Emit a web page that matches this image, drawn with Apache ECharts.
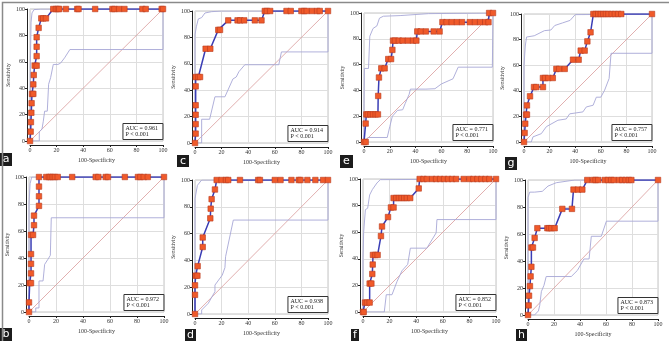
<!DOCTYPE html>
<html>
<head>
<meta charset="utf-8">
<style>
  html, body { margin: 0; padding: 0; background: #fff; }
  #chart { width: 669px; height: 341px; }
</style>
<script src="https://cdn.jsdelivr.net/npm/echarts@6/dist/echarts.min.js"></script>
</head>
<body>
<div id="chart"></div>
<script>
// ROC points [100-specificity, sensitivity] per panel
const rocA = [[0,0],[0.5,7.1],[0.7,14.3],[1,21.4],[1.2,28.6],[1.5,35.7],[2.5,35.7],[2.5,42.9],[2.8,50],[3.5,57.1],[5,57.1],[5,64.3],[5,71.4],[5,78.6],[6.5,85.7],[8.5,92.9],[10,92.9],[12,92.9],[17.5,100],[19.5,100],[21,100],[22,100],[27,100],[35.5,100],[36.5,100],[49,100],[62,100],[63.5,100],[67,100],[71,100],[84.5,100],[87,100],[99,100],[100,100]];
const upperA = [[0,0],[0.3,60],[0.8,90],[1.5,97],[3,99.5],[8,100],[100,100]];
const lowerA = [[0,0],[7,0],[7,7],[9,9],[10,15],[11,22.6],[13,22.6],[14,43],[15.5,48],[17.5,58],[21,58],[23,59],[26,63],[30,69.3],[100,69.3],[100,100]];

const rocC = [[0,0],[0.5,7.1],[0.5,14.3],[0.5,21.4],[0.5,28.6],[0.5,42.9],[0.5,50],[2.5,50],[3.8,50],[8,71.4],[11.5,71.4],[17.5,85.7],[18.8,85.7],[25,92.9],[32,92.9],[34,92.9],[37,92.9],[45,92.9],[50,92.9],[52.5,100],[54,100],[56.5,100],[68.8,100],[72,100],[80,100],[82,100],[84,100],[88,100],[91.8,100],[93.8,100],[100,100]];
const upperC = [[0,0],[0,82],[1,88],[2.5,94],[5,95],[7.5,98.5],[12.5,99.5],[20,100],[100,100]];
const lowerC = [[0,0],[5,0],[5,18],[11,18],[15,35],[22.5,35],[28.5,48.5],[31,50],[33,54],[37.5,59.3],[63,59.3],[65,69],[100,69],[100,100]];

const rocE = [[0,0],[1.3,0],[1.3,14.3],[1.8,21.4],[3,21.4],[5,21.4],[7,21.4],[9,21.4],[10.8,21.4],[11,35.7],[11.6,50],[13.4,57.1],[16,57.1],[18.8,64.3],[21,64.3],[22,71.4],[22.5,78.6],[24,78.6],[27,78.6],[30,78.6],[34,78.6],[38,78.6],[40.6,78.6],[41.3,85.7],[44,85.7],[48,85.7],[54,85.7],[58.6,85.7],[60.8,92.9],[64,92.9],[68,92.9],[72,92.9],[76,92.9],[82,92.9],[86,92.9],[90,92.9],[94,92.9],[96.5,92.9],[97,100],[100,100]];
const upperE = [[0,0],[0,30],[0.3,57],[3.5,57],[4.5,82],[7,88],[10,90],[12,96],[15,97.5],[28,98],[50,99.5],[100,100]];
const lowerE = [[0,0],[3,3.5],[18,3.5],[20,12],[22,20],[26,24.5],[30,25],[32,30],[35,37],[36,41],[48,41],[55,41.3],[60,45],[69,49],[73,58],[99.5,58],[100,100]];

const rocG = [[0,0],[0.5,7.1],[1,14.3],[1.6,21.4],[2.3,21.4],[2.3,28.6],[4.7,35.7],[7.8,42.9],[9.6,42.9],[14.8,42.9],[14.8,50],[16.5,50],[19,50],[22.5,50],[25.3,57.1],[27.5,57.1],[31.8,57.1],[38.3,64.3],[42.7,64.3],[44.3,71.4],[47.4,71.4],[49.5,78.6],[52,85.7],[54.2,100],[56,100],[58,100],[60,100],[62,100],[64,100],[66,100],[68.5,100],[71,100],[73.5,100],[76,100],[100,100]];
const upperG = [[0,0],[0,60],[1,75],[2,82],[8,83],[16,87],[21,87.5],[24,91],[30,93],[36,95],[40,99.5],[100,100]];
const lowerG = [[0,0],[5.7,0],[7,4],[13.5,6.5],[17.5,12],[26.5,17],[33,18],[35.7,22],[46,23.5],[48.7,27.4],[54,28.7],[56.5,35],[60,35],[63,40.5],[66.5,49.6],[68,69.3],[100,69.3],[100,100]];

const rocB = [[0,0],[0,7.1],[0.5,21.4],[1.5,21.4],[1.5,28.6],[1.5,35.7],[1.5,42.9],[1.5,57.1],[3,57.1],[3.7,64.3],[3.7,71.4],[7.4,78.6],[7.4,85.7],[7.4,92.9],[7.4,100],[12.8,100],[14.8,100],[16,100],[17.5,100],[19.2,100],[21.3,100],[32,100],[49.4,100],[51.4,100],[56.8,100],[58.5,100],[71,100],[80.7,100],[82.5,100],[85,100],[88,100],[100,100]];
const upperB = [[0,0],[0,80],[0.8,95],[2,100],[100,100]];
const lowerB = [[0,0],[5,0],[5,3],[7.4,3],[7.4,23],[10.4,23],[11.6,35.3],[14,39],[15.8,42],[16.5,69.8],[100,69.8],[100,100]];

const rocD = [[0,0],[0,14.3],[0,21.4],[0.5,28.6],[1.8,28.6],[2,35.7],[5.8,50],[5.8,57.1],[11.5,71.4],[11.8,78.6],[12.5,85.7],[15,92.9],[16.3,100],[20,100],[23.3,100],[25,100],[33.8,100],[47.5,100],[48.8,100],[60,100],[64.3,100],[72.5,100],[78,100],[79.3,100],[84.5,100],[90.5,100],[96.3,100],[100,100]];
const upperD = [[0,0],[0,86],[1.8,96],[5,100],[100,100]];
const lowerD = [[0,0],[5,0],[5,3],[10,8],[15,16.7],[15,21.6],[20.5,29],[22.5,34.6],[23,42.8],[28.8,70.1],[100,70.1],[100,100]];

const rocF = [[0,0],[0.5,0],[1.5,7.1],[3,7.1],[5,7.1],[5,21.4],[6.3,21.4],[7,28.6],[7.3,35.7],[7.5,42.9],[9.3,42.9],[11,42.9],[13.5,57.1],[14.3,64.3],[18.8,71.4],[21,78.6],[23,78.6],[23,85.7],[25,85.7],[27,85.7],[29,85.7],[31,85.7],[33,85.7],[35.5,85.7],[41.9,92.9],[42.6,100],[45.5,100],[48,100],[52,100],[55,100],[58,100],[61,100],[64,100],[67,100],[70,100],[75.7,100],[80,100],[83,100],[86,100],[89,100],[92,100],[95,100],[100,100]];
const upperF = [[0,0],[0,41],[0.5,60],[1.8,77],[3.5,78],[5,88],[7,92],[10.5,97],[13,99.5],[100,100]];
const lowerF = [[0,0],[16,0],[17.5,13],[21.8,13],[25.6,23],[29.3,31],[33.6,35.8],[35.6,48],[48,48],[55,59.5],[55.6,69.5],[100,69.5],[100,100]];

const rocH = [[0,0],[0.5,7.1],[0.8,14.3],[1.5,21.4],[2,28.6],[2.6,35.7],[2.6,50],[3.8,50],[5.1,57.1],[7.2,64.3],[14.9,64.3],[16.2,64.3],[18,64.3],[20.5,64.3],[26.4,78.6],[33.8,78.6],[35,92.9],[38.5,92.9],[41.8,92.9],[45.6,100],[50,100],[52,100],[54,100],[59,100],[61.5,100],[64,100],[66,100],[70,100],[72.5,100],[75,100],[77.5,100],[79.5,100],[100,100]];
const upperH = [[0,0],[0,87],[1.3,91],[5,91],[11,91.6],[15.4,95.5],[21.8,98],[36,100],[100,100]];
const lowerH = [[0,0],[5,0],[8,3],[9,7],[10.3,17.4],[12.3,22],[14,28.5],[33.3,28.5],[38,33],[43,41.5],[47,41.5],[48.7,58.3],[56.4,58.3],[60.3,69.5],[100,69.5],[100,100]];

const diagonal = [[0,0],[100,100]];
const panelLetters = ['a', 'c', 'e', 'g', 'b', 'd', 'f', 'h'];
const aucValues = ['0.961', '0.914', '0.771', '0.757', '0.972', '0.938', '0.852', '0.873'];
const pValue = 'P < 0.001';
const rocSets = [rocA, rocC, rocE, rocG, rocB, rocD, rocF, rocH];
const upperSets = [upperA, upperC, upperE, upperG, upperB, upperD, upperF, upperH];
const lowerSets = [lowerA, lowerC, lowerE, lowerG, lowerB, lowerD, lowerF, lowerH];

// plot boxes [left, top, width, height] in px
const boxes = [
  [30, 9, 133, 132], [195, 11, 133, 132], [364, 13, 129, 129], [524, 14, 128, 128],
  [29, 177, 135, 135], [195, 180, 133, 134], [363, 179, 133, 133], [528, 180, 130, 135]
];
// letter tags [x, y, w, h]
const tags = [
  [0, 153, 12, 13], [177, 155, 12, 12], [340, 155, 13, 13], [505, 157, 12, 13],
  [0, 328, 12, 13], [185, 329, 11, 12], [351, 329, 8, 12], [516, 329, 11, 12]
];

const serif = 'Liberation Serif';
let chart = echarts.init(document.getElementById('chart'));

let grids = [], xAxes = [], yAxes = [], series = [], titles = [], graphics = [];

boxes.forEach((b, i) => {
  grids.push({ left: b[0], top: b[1], width: b[2], height: b[3], show: true, borderColor: '#c4c4c4', borderWidth: 1 });
  xAxes.push({
    gridIndex: i, type: 'value', min: 0, max: 100, interval: 20, offset: 4,
    name: '100-Specificity', nameLocation: 'middle', nameGap: 12,
    nameTextStyle: { fontFamily: serif, fontSize: 6, color: '#333' },
    axisLine: { show: true, onZero: false, lineStyle: { color: '#222', width: 1 } },
    axisTick: { show: true, length: 2, lineStyle: { color: '#222' } },
    axisLabel: { fontFamily: serif, fontSize: 6, color: '#333', margin: 2 },
    splitLine: { show: true, lineStyle: { color: '#dedede', width: 1 } }
  });
  yAxes.push({
    gridIndex: i, type: 'value', min: 0, max: 100, interval: 20, offset: 3,
    name: 'Sensitivity', nameLocation: 'middle', nameGap: 15, nameRotate: 90,
    nameTextStyle: { fontFamily: serif, fontSize: 5.5, color: '#333' },
    axisLine: { show: true, onZero: false, lineStyle: { color: '#222', width: 1 } },
    axisTick: { show: true, length: 2, lineStyle: { color: '#222' } },
    axisLabel: { fontFamily: serif, fontSize: 6, color: '#333', margin: 2 },
    splitLine: { show: true, lineStyle: { color: '#dedede', width: 1 } }
  });
  series.push({
    type: 'line', xAxisIndex: i, yAxisIndex: i, data: diagonal, symbol: 'none', silent: true,
    lineStyle: { color: '#d99a9a', width: 0.8 }, z: 2
  });
  series.push({
    type: 'line', xAxisIndex: i, yAxisIndex: i, data: upperSets[i], symbol: 'none', silent: true,
    lineStyle: { color: '#a7a7d6', width: 0.9 }, z: 2
  });
  series.push({
    type: 'line', xAxisIndex: i, yAxisIndex: i, data: lowerSets[i], symbol: 'none', silent: true,
    lineStyle: { color: '#a7a7d6', width: 0.9 }, z: 2
  });
  series.push({
    type: 'line', xAxisIndex: i, yAxisIndex: i, data: rocSets[i],
    symbol: 'rect', symbolSize: 5.5, showAllSymbol: true,
    lineStyle: { color: '#3a3db5', width: 1.5 },
    itemStyle: { color: '#f05a2a', borderColor: '#b83a1e', borderWidth: 0.6 }, z: 3
  });
  // AUC box at bottom-right corner of the plot
  titles.push({
    text: 'AUC = ' + aucValues[i] + '\n' + pValue,
    right: 669 - (b[0] + b[2]), bottom: 341 - (b[1] + b[3]) + 1,
    padding: [2, 5, 2, 3], borderColor: '#333', borderWidth: 1, backgroundColor: '#fff',
    textStyle: { fontFamily: serif, fontSize: 6, lineHeight: 6.5, fontWeight: 'normal', color: '#222' }
  });
  let t = tags[i];
  graphics.push({
    type: 'group', left: t[0], top: t[1],
    children: [
      { type: 'rect', shape: { x: 0, y: 0, width: t[2], height: t[3] }, style: { fill: '#1c1c1c' } },
      { type: 'text', x: t[2] / 2, y: t[3] / 2,
        style: { text: panelLetters[i], fill: '#fff', font: '11px "DejaVu Sans"', align: 'center', verticalAlign: 'middle' } }
    ]
  });
});

// outer figure border
graphics.push({
  type: 'rect', left: 0, top: 0, z: 100,
  shape: { x: 0.75, y: 0.75, width: 667.5, height: 339.5 },
  style: { fill: 'none', stroke: '#8a8a8a', lineWidth: 1.5 }
});

let option = {
  animation: false,
  title: titles,
  grid: grids,
  xAxis: xAxes,
  yAxis: yAxes,
  series: series,
  graphic: graphics
};

chart.setOption(option);
window.addEventListener('resize', () => {
  chart.resize();
});
</script>
</body>
</html>
